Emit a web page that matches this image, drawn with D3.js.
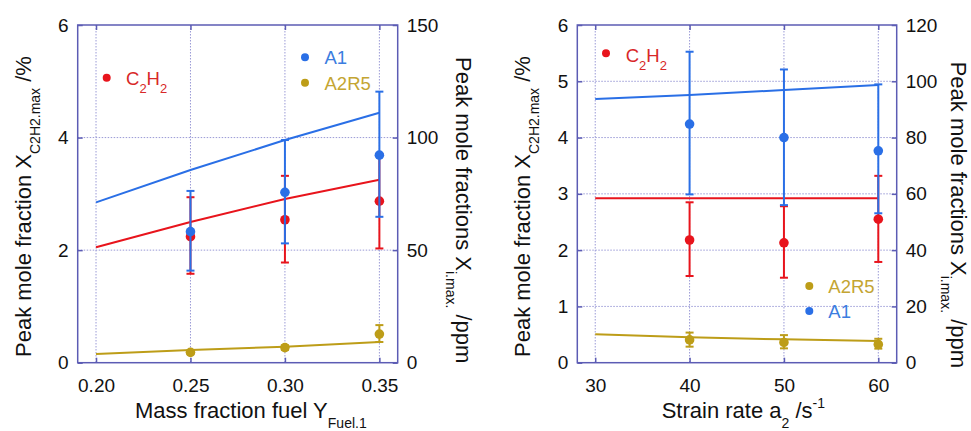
<!DOCTYPE html>
<html>
<head>
<meta charset="utf-8">
<script src="https://cdn.jsdelivr.net/npm/d3@7"></script>
<style>
  body { margin: 0; background: #fff; }
  svg { display: block; font-family: "Liberation Sans", Arial, sans-serif; }
</style>
</head>
<body>
<div id="chart-area"></div>
<script>
/*
*    two panels: peak mole fractions vs fuel mass fraction and vs strain rate
*/

// ---- left panel: mass fraction fuel ----
var fuelTicks = [0.20, 0.25, 0.30, 0.35];
var fuelModelX = [0.20, 0.25, 0.30, 0.35];
var fuelModelC2H2 = [2.05, 2.50, 2.91, 3.25];      // %
var fuelModelA1 = [71.2, 85.6, 98.9, 111.0];        // ppm
var fuelModelA2R5 = [3.9, 5.6, 7.1, 9.2];           // ppm
var fuelExpX = [0.25, 0.30, 0.35];
var fuelC2H2 = [2.24, 2.54, 2.87];
var fuelC2H2Lo = [1.58, 1.78, 2.03];
var fuelC2H2Hi = [2.94, 3.32, 3.71];
var fuelA1 = [58.2, 75.7, 92.2];
var fuelA1Lo = [40.9, 53.0, 64.8];
var fuelA1Hi = [76.3, 98.9, 120.4];
var fuelA2R5 = [4.6, 6.7, 12.7];
var fuelA2R5Lo = [3.8, 5.7, 9.2];
var fuelA2R5Hi = [5.4, 7.7, 16.7];

// ---- right panel: strain rate ----
var strainTicks = [30, 40, 50, 60];
var strainModelX = [30, 40, 50, 60];
var strainModelC2H2 = [2.92, 2.92, 2.92, 2.92];
var strainModelA1 = [93.7, 95.1, 96.9, 98.7];
var strainModelA2R5 = [10.1, 9.0, 8.3, 7.7];
var strainExpX = [40, 50, 60];
var strainC2H2 = [2.18, 2.13, 2.55];
var strainC2H2Lo = [1.54, 1.51, 1.79];
var strainC2H2Hi = [2.85, 2.78, 3.32];
var strainA1 = [84.8, 80.0, 75.3];
var strainA1Lo = [59.8, 56.0, 53.1];
var strainA1Hi = [110.5, 104.2, 98.9];
var strainA2R5 = [8.1, 7.2, 6.5];
var strainA2R5Lo = [5.7, 5.1, 5.0];
var strainA2R5Hi = [10.7, 9.8, 8.5];

var leftTicksPct = [0, 2, 4, 6];
var leftTicksPct2 = [0, 1, 2, 3, 4, 5, 6];
var rightTicksFuel = [0, 50, 100, 150];
var rightTicksStrain = [0, 20, 40, 60, 80, 100, 120];

var RED = "#e8141c", BLUE = "#2a6fe6", GOLD = "#bd9d18";
var FRAME = "#5c5cb4", GRID = "#9a9ad6";

var svg = d3.select("#chart-area")
  .append("svg")
    .attr("width", 971)
    .attr("height", 431);

function drawPanel(p) {
    var top = 25, bottom = 362.7;
    var g = svg.append("g");

    var x = d3.scaleLinear().domain(p.xDomain).range([p.left, p.right]);
    var yL = d3.scaleLinear().domain([0, 6]).range([bottom, top]);
    var yR = d3.scaleLinear().domain([0, p.rMax]).range([bottom, top]);

    // dotted grid
    g.selectAll(".vgrid").data(p.xTicks).enter().append("line")
        .attr("x1", d => x(d)).attr("x2", d => x(d))
        .attr("y1", top).attr("y2", bottom)
        .attr("stroke", GRID).attr("stroke-width", 1)
        .attr("stroke-dasharray", "1.5,1.5");
    g.selectAll(".hgrid").data(p.yTicks.filter(d => d > 0 && d < 6)).enter().append("line")
        .attr("x1", p.left).attr("x2", p.right)
        .attr("y1", d => yL(d)).attr("y2", d => yL(d))
        .attr("stroke", GRID).attr("stroke-width", 1)
        .attr("stroke-dasharray", "1.5,1.5");

    // axes with inward ticks
    var axes = [
        [d3.axisBottom(x).tickValues(p.xTicks).tickFormat(p.xFormat).tickPadding(16), "translate(0," + bottom + ")"],
        [d3.axisTop(x).tickValues(p.xTicks).tickFormat(""), "translate(0," + top + ")"],
        [d3.axisLeft(yL).tickValues(p.yTicks).tickFormat(d3.format("d")).tickPadding(9), "translate(" + p.left + ",0)"],
        [d3.axisRight(yR).tickValues(p.rTicks).tickFormat(d3.format("d")).tickPadding(9), "translate(" + p.right + ",0)"]
    ];
    axes.forEach(function (a) {
        var ax = g.append("g")
            .attr("transform", a[1])
            .call(a[0].tickSize(-5));
        ax.select(".domain").remove();
        ax.selectAll("line").attr("stroke", FRAME).attr("stroke-width", 1.5);
        ax.selectAll("text")
            .attr("font-size", "19px")
            .attr("font-family", "'Liberation Sans', Arial, sans-serif")
            .attr("fill", "#111");
    });

    // frame
    g.append("rect")
        .attr("x", p.left).attr("y", top)
        .attr("width", p.right - p.left).attr("height", bottom - top)
        .attr("fill", "none").attr("stroke", FRAME).attr("stroke-width", 1.5);

    // model lines
    var lineL = d3.line().x(d => x(d[0])).y(d => yL(d[1]));
    var lineR = d3.line().x(d => x(d[0])).y(d => yR(d[1]));
    g.append("path").datum(d3.zip(p.modelX, p.modelA2R5)).attr("d", lineR)
        .attr("fill", "none").attr("stroke", GOLD).attr("stroke-width", 2);
    g.append("path").datum(d3.zip(p.modelX, p.modelC2H2)).attr("d", lineL)
        .attr("fill", "none").attr("stroke", RED).attr("stroke-width", 2);
    g.append("path").datum(d3.zip(p.modelX, p.modelA1)).attr("d", lineR)
        .attr("fill", "none").attr("stroke", BLUE).attr("stroke-width", 2);

    // error bars + points
    function series(vals, lo, hi, y, color) {
        var rows = p.expX.map((xv, i) => ({x: xv, v: vals[i], lo: lo[i], hi: hi[i]}));
        var s = g.append("g");
        s.selectAll(".bar").data(rows).enter().append("line")
            .attr("x1", d => x(d.x)).attr("x2", d => x(d.x))
            .attr("y1", d => y(d.lo)).attr("y2", d => y(d.hi))
            .attr("stroke", color).attr("stroke-width", 2);
        ["lo", "hi"].forEach(function (k) {
            s.selectAll(".cap-" + k).data(rows).enter().append("line")
                .attr("x1", d => x(d.x) - 4).attr("x2", d => x(d.x) + 4)
                .attr("y1", d => y(d[k])).attr("y2", d => y(d[k]))
                .attr("stroke", color).attr("stroke-width", 2);
        });
        return s.selectAll(".pt").data(rows);
    }
    var ptsA2 = series(p.A2R5, p.A2R5Lo, p.A2R5Hi, yR, GOLD);
    var ptsC = series(p.C2H2, p.C2H2Lo, p.C2H2Hi, yL, RED);
    var ptsA1 = series(p.A1, p.A1Lo, p.A1Hi, yR, BLUE);
    [[ptsA2, yR, GOLD], [ptsA1, yR, BLUE], [ptsC, yL, RED]].forEach(function (s) {
        s[0].enter().append("circle")
            .attr("cx", d => x(d.x)).attr("cy", d => s[1](d.v))
            .attr("r", 4.8).attr("fill", s[2]);
    });

    // legend
    p.legend.forEach(function (l) {
        g.append("circle").attr("cx", l.cx).attr("cy", l.cy).attr("r", 4).attr("fill", l.dot);
        var t = g.append("text").attr("x", l.tx).attr("y", l.ty)
            .attr("font-size", "18.5px").attr("fill", l.color);
        if (l.name === "C2H2") {
            t.append("tspan").text("C");
            t.append("tspan").attr("dy", 8).attr("font-size", "13px").text("2");
            t.append("tspan").attr("dy", -8).text("H");
            t.append("tspan").attr("dy", 8).attr("font-size", "13px").text("2");
        } else {
            t.text(l.name);
        }
    });

    // x title
    var xt = g.append("text").attr("x", p.xTitleX).attr("y", 418)
        .attr("font-size", "22px").attr("fill", "#111");
    p.xTitle(xt);

    // left y title
    var lt = g.append("text")
        .attr("transform", "translate(" + p.lTitleX + "," + 357 + ") rotate(-90)")
        .attr("font-size", "22px").attr("fill", "#111");
    lt.append("tspan").text("Peak mole fraction X");
    lt.append("tspan").attr("dy", 9).attr("font-size", "14px").text("C2H2.max");
    lt.append("tspan").attr("dy", -9).text(" /%");

    // right y title
    var rt = g.append("text")
        .attr("transform", "translate(" + p.rTitleX + "," + p.rTitleY + ") rotate(90)")
        .attr("font-size", "22px").attr("fill", "#111");
    rt.append("tspan").text("Peak mole fractions X");
    rt.append("tspan").attr("dy", 10).attr("font-size", "14px").text("i.max.");
    rt.append("tspan").attr("dy", -10).text(" /ppm");
}

drawPanel({
    left: 77.7, right: 397.7,
    xDomain: [0.1903, 0.3597], xTicks: fuelTicks, xFormat: d3.format(".2f"),
    yTicks: leftTicksPct, rMax: 150, rTicks: rightTicksFuel,
    modelX: fuelModelX, modelC2H2: fuelModelC2H2, modelA1: fuelModelA1, modelA2R5: fuelModelA2R5,
    expX: fuelExpX,
    C2H2: fuelC2H2, C2H2Lo: fuelC2H2Lo, C2H2Hi: fuelC2H2Hi,
    A1: fuelA1, A1Lo: fuelA1Lo, A1Hi: fuelA1Hi,
    A2R5: fuelA2R5, A2R5Lo: fuelA2R5Lo, A2R5Hi: fuelA2R5Hi,
    legend: [
        {name: "C2H2", cx: 106.7, cy: 77.7, tx: 126, ty: 85, dot: RED, color: "#d82828"},
        {name: "A1", cx: 305, cy: 57.3, tx: 324.5, ty: 64, dot: BLUE, color: "#3b7de0"},
        {name: "A2R5", cx: 305, cy: 82.7, tx: 324.5, ty: 89.5, dot: GOLD, color: "#c4a532"}
    ],
    xTitleX: 135,
    xTitle: function (t) {
        t.append("tspan").text("Mass fraction fuel Y");
        t.append("tspan").attr("dy", 10).attr("font-size", "14px").text("Fuel.1");
    },
    lTitleX: 31, rTitleX: 456, rTitleY: 57
});

drawPanel({
    left: 577.3, right: 896.7,
    xDomain: [28.1, 61.95], xTicks: strainTicks, xFormat: d3.format("d"),
    yTicks: leftTicksPct2, rMax: 120, rTicks: rightTicksStrain,
    modelX: strainModelX, modelC2H2: strainModelC2H2, modelA1: strainModelA1, modelA2R5: strainModelA2R5,
    expX: strainExpX,
    C2H2: strainC2H2, C2H2Lo: strainC2H2Lo, C2H2Hi: strainC2H2Hi,
    A1: strainA1, A1Lo: strainA1Lo, A1Hi: strainA1Hi,
    A2R5: strainA2R5, A2R5Lo: strainA2R5Lo, A2R5Hi: strainA2R5Hi,
    legend: [
        {name: "C2H2", cx: 606, cy: 53.3, tx: 625.7, ty: 61.7, dot: RED, color: "#d82828"},
        {name: "A2R5", cx: 809.3, cy: 286, tx: 828.3, ty: 292.5, dot: GOLD, color: "#c4a532"},
        {name: "A1", cx: 809.3, cy: 311, tx: 828.3, ty: 317.5, dot: BLUE, color: "#3b7de0"}
    ],
    xTitleX: 661.7,
    xTitle: function (t) {
        t.append("tspan").text("Strain rate a");
        t.append("tspan").attr("dy", 10).attr("font-size", "14px").text("2");
        t.append("tspan").attr("dy", -10).text(" /s");
        t.append("tspan").attr("dy", -10).attr("font-size", "14px").text("-1");
    },
    lTitleX: 530, rTitleX: 951, rTitleY: 61.7
});
</script>
</body>
</html>
